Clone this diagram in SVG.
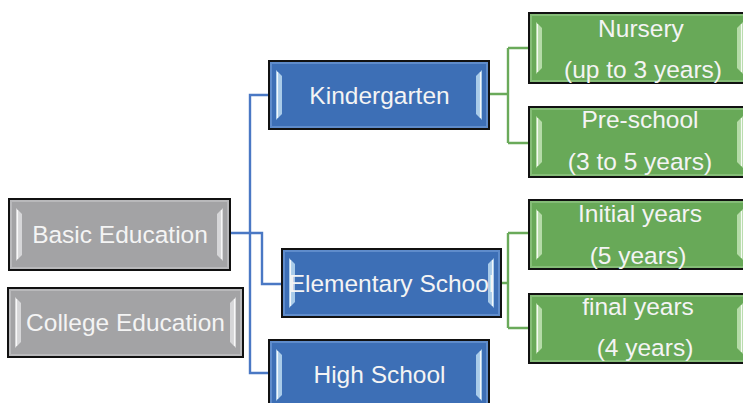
<svg xmlns="http://www.w3.org/2000/svg" width="743" height="403" viewBox="0 0 743 403">
<style>
.face{stroke:#111;stroke-width:2}
.grey .face{fill:#a3a3a5}
.blue .face{fill:#3d6fb6}
.green .face{fill:#68a958}
.rim{fill:none;stroke-width:2}
.grey .rim{stroke:#b9b9bb}
.blue .rim{stroke:#5f8ccb}
.green .rim{stroke:#85bd77}
.bev{stroke:none}
.grey .bev{fill:#d6d6d8}
.blue .bev{fill:#a9cbe9}
.green .bev{fill:#b5dba8}
.hl{stroke:#fff;stroke-width:1.2;opacity:0.85}
text{font-family:"Liberation Sans",Arial,sans-serif;font-size:24.5px;fill:#f4f4f4;text-anchor:middle}
.conn path{fill:none;stroke-width:2.4}
.cb{stroke:#4a78c4}
.cg{stroke:#6aaa5a}
</style>
<rect width="743" height="403" fill="#fff"/>
<g id="connectors" class="conn">
<path class="cb" d="M230,233 H262 V284 H282"/>
<path class="cb" d="M269,95 H250 V373 H269"/>
<path class="cg" d="M489,94 H508 M508,48 V143 M508,48 H529 M508,143 H529"/>
<path class="cg" d="M501,283 H508 M508,233 V328 M508,233 H529 M508,328 H529"/>
</g>
<g id="basic-education" class="grey">
<rect class="face" x="9" y="199" width="221" height="71"/>
<rect class="rim" x="11" y="201" width="217" height="67"/>
<polygon class="bev" points="16,208 22,214 22,255 16,261"/>
<line class="hl" x1="17.5" y1="210" x2="17.5" y2="259"/>
<polygon class="bev" points="223,208 217,214 217,255 223,261"/>
<line class="hl" x1="221.5" y1="210" x2="221.5" y2="259"/>
<text x="120" y="243">Basic Education</text>
</g>
<g id="college-education" class="grey">
<rect class="face" x="8" y="288" width="235" height="69"/>
<rect class="rim" x="10" y="290" width="231" height="65"/>
<polygon class="bev" points="15,297 21,303 21,342 15,348"/>
<line class="hl" x1="16.5" y1="299" x2="16.5" y2="346"/>
<polygon class="bev" points="236,297 230,303 230,342 236,348"/>
<line class="hl" x1="234.5" y1="299" x2="234.5" y2="346"/>
<text x="125.5" y="331">College Education</text>
</g>
<g id="kindergarten" class="blue">
<rect class="face" x="269" y="61" width="220" height="68"/>
<rect class="rim" x="271" y="63" width="216" height="64"/>
<polygon class="bev" points="276,70 282,76 282,114 276,120"/>
<line class="hl" x1="277.5" y1="72" x2="277.5" y2="118"/>
<polygon class="bev" points="482,70 476,76 476,114 482,120"/>
<line class="hl" x1="480.5" y1="72" x2="480.5" y2="118"/>
<text x="379.5" y="103.5">Kindergarten</text>
</g>
<g id="elementary-school" class="blue">
<rect class="face" x="282" y="249" width="219" height="68"/>
<rect class="rim" x="284" y="251" width="215" height="64"/>
<polygon class="bev" points="289,258 295,264 295,302 289,308"/>
<line class="hl" x1="290.5" y1="260" x2="290.5" y2="306"/>
<polygon class="bev" points="494,258 488,264 488,302 494,308"/>
<line class="hl" x1="492.5" y1="260" x2="492.5" y2="306"/>
<text x="391.5" y="292">Elementary School</text>
</g>
<g id="high-school" class="blue">
<rect class="face" x="269" y="340" width="220" height="70"/>
<rect class="rim" x="271" y="342" width="216" height="66"/>
<polygon class="bev" points="276,349 282,355 282,395 276,401"/>
<line class="hl" x1="277.5" y1="351" x2="277.5" y2="399"/>
<polygon class="bev" points="482,349 476,355 476,395 482,401"/>
<line class="hl" x1="480.5" y1="351" x2="480.5" y2="399"/>
<text x="379.5" y="383">High School</text>
</g>
<g id="nursery" class="green">
<rect class="face" x="529" y="13" width="221" height="70"/>
<rect class="rim" x="531" y="15" width="217" height="66"/>
<polygon class="bev" points="536,22 542,28 542,68 536,74"/>
<line class="hl" x1="537.5" y1="24" x2="537.5" y2="72"/>
<polygon class="bev" points="743,22 737,28 737,68 743,74"/>
<line class="hl" x1="741.5" y1="24" x2="741.5" y2="72"/>
<text x="641" y="37">Nursery</text>
<text x="643" y="78">(up to 3 years)</text>
</g>
<g id="pre-school" class="green">
<rect class="face" x="529" y="107" width="221" height="70"/>
<rect class="rim" x="531" y="109" width="217" height="66"/>
<polygon class="bev" points="536,116 542,122 542,162 536,168"/>
<line class="hl" x1="537.5" y1="118" x2="537.5" y2="166"/>
<polygon class="bev" points="743,116 737,122 737,162 743,168"/>
<line class="hl" x1="741.5" y1="118" x2="741.5" y2="166"/>
<text x="640" y="128">Pre-school</text>
<text x="640" y="170">(3 to 5 years)</text>
</g>
<g id="initial-years" class="green">
<rect class="face" x="529" y="200" width="221" height="69"/>
<rect class="rim" x="531" y="202" width="217" height="65"/>
<polygon class="bev" points="536,209 542,215 542,254 536,260"/>
<line class="hl" x1="537.5" y1="211" x2="537.5" y2="258"/>
<polygon class="bev" points="743,209 737,215 737,254 743,260"/>
<line class="hl" x1="741.5" y1="211" x2="741.5" y2="258"/>
<text x="640" y="222">Initial years</text>
<text x="638" y="264">(5 years)</text>
</g>
<g id="final-years" class="green">
<rect class="face" x="529" y="294" width="221" height="69"/>
<rect class="rim" x="531" y="296" width="217" height="65"/>
<polygon class="bev" points="536,303 542,309 542,348 536,354"/>
<line class="hl" x1="537.5" y1="305" x2="537.5" y2="352"/>
<polygon class="bev" points="743,303 737,309 737,348 743,354"/>
<line class="hl" x1="741.5" y1="305" x2="741.5" y2="352"/>
<text x="638" y="315">final years</text>
<text x="645" y="356">(4 years)</text>
</g>
</svg>
